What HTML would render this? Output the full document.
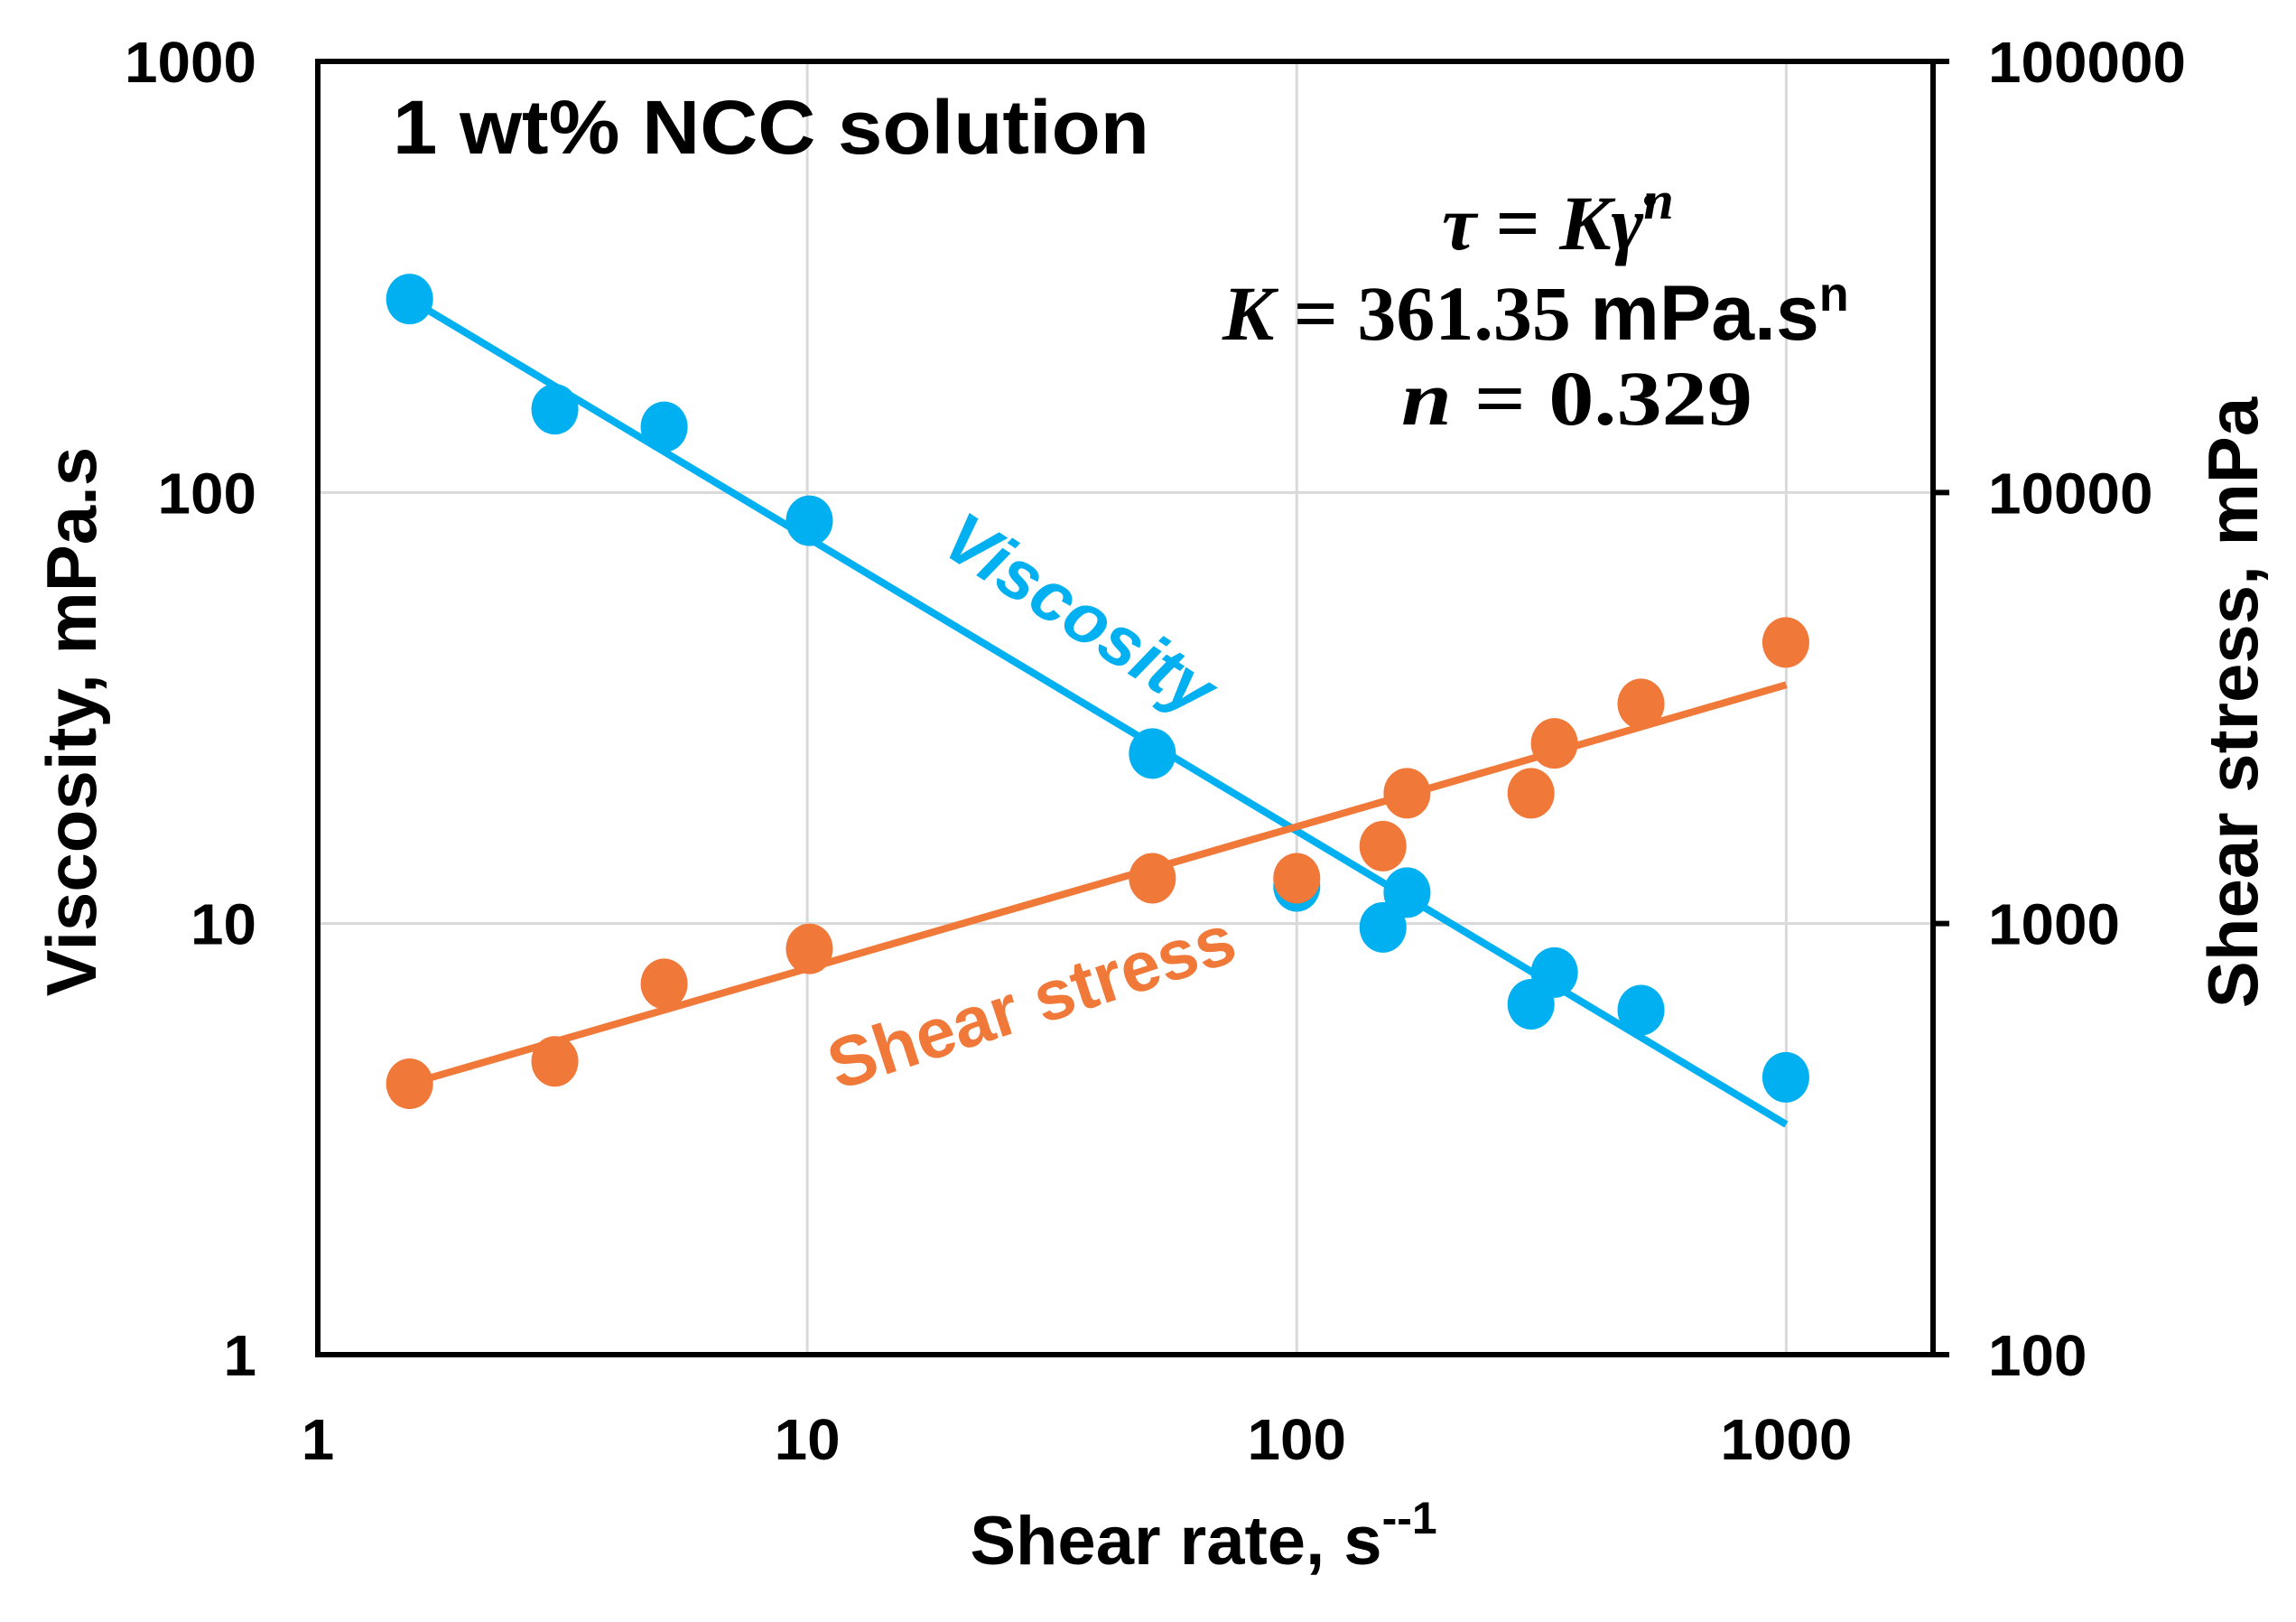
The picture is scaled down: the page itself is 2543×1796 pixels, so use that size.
<!DOCTYPE html>
<html><head><meta charset="utf-8">
<style>
html,body{margin:0;padding:0;background:#fff;}
svg{display:block;}
text{font-family:"Liberation Sans",sans-serif;font-weight:bold;}
.eq{font-family:"Liberation Serif",serif;font-weight:bold;}
</style></head>
<body>
<svg id="chart" width="2543" height="1796" viewBox="0 0 2543 1796" xmlns="http://www.w3.org/2000/svg">
<g id="grid"></g>
<g id="fits"></g>
<g id="points"></g>
<rect x="352" y="68" width="1789" height="1432" fill="none" stroke="#000" stroke-width="6"/>
<g id="axes"></g>
<text x="435" y="170" font-size="84" textLength="838" lengthAdjust="spacingAndGlyphs">1 wt% NCC solution</text>
<g>
<text class="eq" x="1597" y="276" font-size="86"><tspan font-style="italic">τ</tspan> = <tspan font-style="italic">Kγ̇</tspan><tspan font-style="italic" font-size="60" dy="-34">n</tspan></text>
<text class="eq" x="1354" y="376" font-size="86"><tspan font-style="italic">K</tspan> = 361.35 <tspan font-family="Liberation Sans">mPa.s</tspan><tspan font-family="Liberation Sans" font-size="54" dy="-32">n</tspan></text>
<text class="eq" x="1552" y="470" font-size="86" textLength="389" lengthAdjust="spacingAndGlyphs"><tspan font-style="italic">n</tspan> = 0.329</text>
</g>
<text x="1195" y="706" font-size="78" font-style="italic" fill="#00b0f0" text-anchor="middle" transform="rotate(33 1195 681)">Viscosity</text>
<text x="1143" y="1136" font-size="78" fill="#f07838" text-anchor="middle" transform="rotate(-18 1143 1111)">Shear stress</text>
<text x="1333" y="1732" font-size="76" text-anchor="middle">Shear rate, s<tspan font-size="50" dy="-34">--1</tspan></text>
<text x="0" y="0" font-size="78" text-anchor="middle" transform="translate(106 799) rotate(-90)">Viscosity, mPa.s</text>
<text x="0" y="0" font-size="78" text-anchor="middle" transform="translate(2500 778) rotate(-90)">Shear stress, mPa</text>
</svg>
<script>
const shearRate = [1.54, 3.05, 5.1, 10.1, 50.7, 100, 150, 168, 301, 336, 505, 998];
const viscosity = [281, 156, 142, 86, 24.8, 12.2, 9.8, 11.8, 6.5, 7.7, 6.3, 4.4];
const shearStress = [425, 479, 725, 874, 1274, 1274, 1513, 2006, 2006, 2618, 3234, 4490];
const fitRate = [1.54, 1000];
const viscosityFit = [281, 3.42];
const stressFit = [425, 3580];
const xTicks = [1, 10, 100, 1000];
const yTicks = [1, 10, 100, 1000];
const y2Ticks = [100, 1000, 10000, 100000];

const L=352,R=2141,T=68,B=1500;
const xMin=0,xMax=Math.log10(1995);
const X=v=>L+(Math.log10(v)-xMin)/(xMax-xMin)*(R-L);
const Y=v=>B-(Math.log10(v)-0)/3*(B-T);
const Y2=v=>B-(Math.log10(v)-2)/3*(B-T);
const NS="http://www.w3.org/2000/svg";
function mk(tag,attrs,parent){const e=document.createElementNS(NS,tag);for(const k in attrs)e.setAttribute(k,attrs[k]);parent.appendChild(e);return e;}
const grid=document.getElementById('grid'),fits=document.getElementById('fits'),pts=document.getElementById('points'),axes=document.getElementById('axes');
const CW=36.5, FS=64;

xTicks.forEach(t=>{
  if(t>1){const g=mk('line',{x1:X(t),x2:X(t),y1:T,y2:B,stroke:'#d9d9d9','stroke-width':3},grid);
  
  }
  const s=String(t);
  const lb=mk('text',{x:X(t),y:1616,'font-size':FS,'text-anchor':'middle',textLength:s.length*CW,lengthAdjust:'spacingAndGlyphs'},axes);lb.textContent=s;
  
  
});
yTicks.forEach(t=>{
  if(t>1&&t<1000){const g=mk('line',{x1:L,x2:R,y1:Y(t),y2:Y(t),stroke:'#d9d9d9','stroke-width':3},grid);
  
  }
  const s=String(t);
  const lb=mk('text',{x:284,y:Y(t)+23,'font-size':FS,'text-anchor':'end',textLength:s.length*CW,lengthAdjust:'spacingAndGlyphs'},axes);lb.textContent=s;
  
  
});
y2Ticks.forEach(t=>{
  const tk=mk('line',{x1:R,x2:R+18,y1:Y2(t),y2:Y2(t),stroke:'#000','stroke-width':6},axes);
  
  
  const s=String(t);
  const lb=mk('text',{x:2202,y:Y2(t)+23,'font-size':FS,'text-anchor':'start',textLength:s.length*CW,lengthAdjust:'spacingAndGlyphs'},axes);lb.textContent=s;
  
  
});

const vf=mk('line',{x1:X(fitRate[0]),y1:Y(viscosityFit[0]),x2:X(fitRate[1]),y2:Y(viscosityFit[1]),stroke:'#00b0f0','stroke-width':8},fits);


const sf=mk('line',{x1:X(fitRate[0]),y1:Y2(stressFit[0]),x2:X(fitRate[1]),y2:Y2(stressFit[1]),stroke:'#f07838','stroke-width':8},fits);



shearRate.forEach((r,i)=>{
  const c=mk('ellipse',{cx:X(r),cy:Y(viscosity[i]),rx:26,ry:28,fill:'#00b0f0'},pts);
  
  
});
shearRate.forEach((r,i)=>{
  const c=mk('ellipse',{cx:X(r),cy:Y2(shearStress[i]),rx:26,ry:28,fill:'#f07838'},pts);
  
  
});
</script>
</body></html>
